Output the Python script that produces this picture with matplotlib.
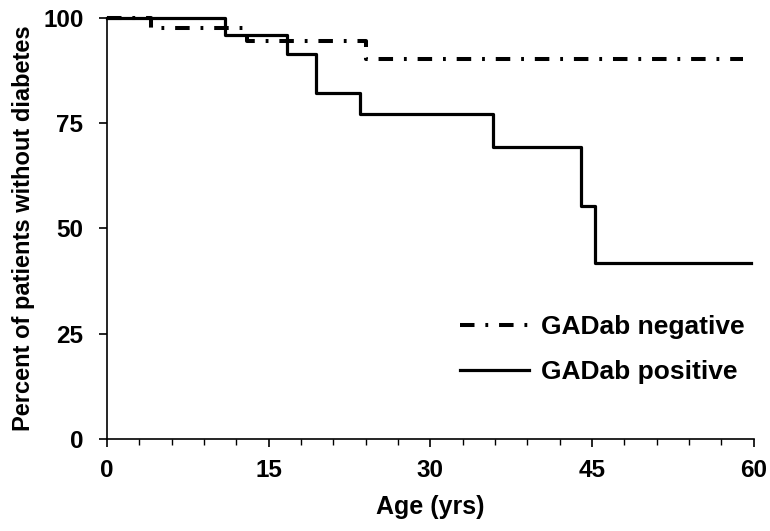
import matplotlib
matplotlib.use("Agg")
import matplotlib.pyplot as plt
from matplotlib.ticker import MultipleLocator

plt.rcParams['font.family'] = ['Liberation Sans', 'DejaVu Sans']
plt.rcParams['font.weight'] = 'bold'

# Kaplan-Meier steps (age in years, percent without diabetes)
neg_age = [0, 4.1, 13.0, 24.0, 59.0]
neg_pct = [100, 97.4, 94.5, 90.1, 90.1]
pos_age = [0, 10.9, 16.7, 19.4, 23.5, 35.8, 44.0, 45.3, 59.7]
pos_pct = [100, 95.8, 91.3, 82.2, 77.0, 69.3, 55.3, 41.7, 41.7]

x_ticks = [0, 15, 30, 45, 60]
y_ticks = [0, 25, 50, 75, 100]

fig = plt.figure(figsize=(7.7, 5.31), dpi=100)
ax = fig.add_axes([0.139, 0.173, 0.840, 0.794])

ax.step(neg_age, neg_pct, where="post", color="black", lw=2.9,
        linestyle=(0, (3.6, 2.7, 0.7, 2.7)), clip_on=False,
        label="GADab negative")
ax.step(pos_age, pos_pct, where="post", color="black", lw=2.3,
        clip_on=False, label="GADab positive")

ax.set_xlim(0, 60)
ax.set_ylim(0, 100)
ax.set_xticks(x_ticks)
ax.set_yticks(y_ticks)
ax.xaxis.set_minor_locator(MultipleLocator(3))

for s in ["top", "right"]:
    ax.spines[s].set_visible(False)
for s in ["left", "bottom"]:
    ax.spines[s].set_linewidth(1.2)

ax.tick_params(axis="both", which="major", direction="out", length=6,
               width=1.2, labelsize=17.5)
ax.tick_params(axis="x", which="major", pad=8)
ax.tick_params(axis="y", which="major", pad=11)
ax.tick_params(axis="x", which="minor", direction="out", length=4, width=1.0)

ax.set_xlabel("Age (yrs)", fontsize=18, fontweight="bold", labelpad=10)
ax.set_ylabel("Percent of patients without diabetes", fontsize=17,
              fontweight="bold", labelpad=6)

ax.legend(loc="upper left", bbox_to_anchor=(0.53, 0.32), frameon=False,
          fontsize=19, handlelength=2.6, handletextpad=0.45,
          labelspacing=0.8, borderaxespad=0)

fig.savefig("out.png", dpi=100)
